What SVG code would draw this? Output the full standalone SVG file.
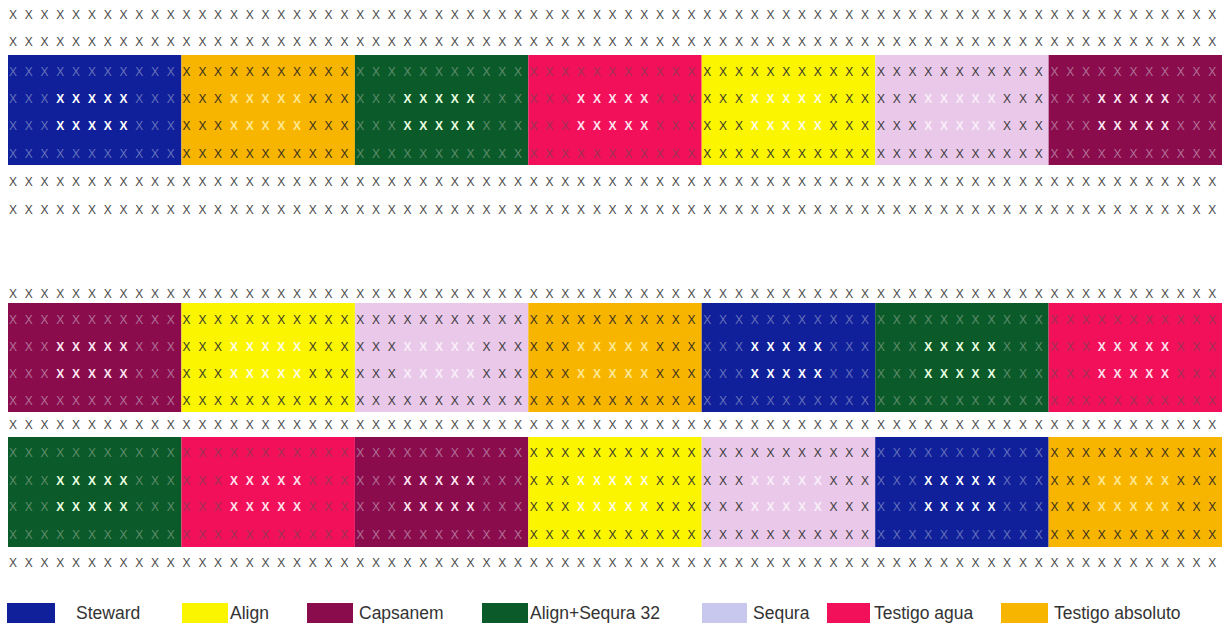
<svg xmlns="http://www.w3.org/2000/svg" width="1222" height="628" viewBox="0 0 1222 628">
<style>
.x{font-family:"Liberation Sans",Arial,sans-serif;font-size:12px;text-anchor:middle}
.g{fill:#4a4a4a}
.b{font-weight:bold}
.lbl{font-family:"Liberation Sans",Arial,sans-serif;font-size:17.5px;fill:#333}
.f-st{fill:#101f9a}.d-st{fill:#6472ba}.i-st{fill:#ffffff}
.f-al{fill:#fcf500}.d-al{fill:#3a3a2a}.i-al{fill:#fffde0}
.f-ca{fill:#8a0c4c}.d-ca{fill:#b27098}.i-ca{fill:#ffe6f2}
.f-as{fill:#0b5a29}.d-as{fill:#5e8c6c}.i-as{fill:#eaffe0}
.f-se{fill:#eac8ea}.d-se{fill:#3a3a3a}.i-se{fill:#f8eef8}
.f-ta{fill:#f2105a}.d-ta{fill:#9c3456}.i-ta{fill:#ffe2ec}
.f-tb{fill:#f7b500}.d-tb{fill:#3a3020}.i-tb{fill:#ffe890}
.lg-se{fill:#c8c8ee}
</style>
<g id="border-rows">
<text class="x g" x="13 28.8 44.6 60.3 76.1 91.9 107.7 123.5 139.2 155 170.8 186.6 202.4 218.1 233.9 249.7 265.5 281.3 297 312.8 328.6 344.4 360.2 375.9 391.7 407.5 423.3 439.1 454.8 470.6 486.4 502.2 518 533.7 549.5 565.3 581.1 596.9 612.6 628.4 644.2 660 675.8 691.5 707.3 723.1 738.9 754.7 770.4 786.2 802 817.8 833.6 849.3 865.1 880.9 896.7 912.5 928.2 944 959.8 975.6 991.4 1007.1 1022.9 1038.7 1054.5 1070.3 1086 1101.8 1117.6 1133.4 1149.2 1164.9 1180.7 1196.5 1212.3" y="19">XXXXXXXXXXXXXXXXXXXXXXXXXXXXXXXXXXXXXXXXXXXXXXXXXXXXXXXXXXXXXXXXXXXXXXXXXXXXX</text>
<text class="x g" x="13 28.8 44.6 60.3 76.1 91.9 107.7 123.5 139.2 155 170.8 186.6 202.4 218.1 233.9 249.7 265.5 281.3 297 312.8 328.6 344.4 360.2 375.9 391.7 407.5 423.3 439.1 454.8 470.6 486.4 502.2 518 533.7 549.5 565.3 581.1 596.9 612.6 628.4 644.2 660 675.8 691.5 707.3 723.1 738.9 754.7 770.4 786.2 802 817.8 833.6 849.3 865.1 880.9 896.7 912.5 928.2 944 959.8 975.6 991.4 1007.1 1022.9 1038.7 1054.5 1070.3 1086 1101.8 1117.6 1133.4 1149.2 1164.9 1180.7 1196.5 1212.3" y="46">XXXXXXXXXXXXXXXXXXXXXXXXXXXXXXXXXXXXXXXXXXXXXXXXXXXXXXXXXXXXXXXXXXXXXXXXXXXXX</text>
<text class="x g" x="13 28.8 44.6 60.3 76.1 91.9 107.7 123.5 139.2 155 170.8 186.6 202.4 218.1 233.9 249.7 265.5 281.3 297 312.8 328.6 344.4 360.2 375.9 391.7 407.5 423.3 439.1 454.8 470.6 486.4 502.2 518 533.7 549.5 565.3 581.1 596.9 612.6 628.4 644.2 660 675.8 691.5 707.3 723.1 738.9 754.7 770.4 786.2 802 817.8 833.6 849.3 865.1 880.9 896.7 912.5 928.2 944 959.8 975.6 991.4 1007.1 1022.9 1038.7 1054.5 1070.3 1086 1101.8 1117.6 1133.4 1149.2 1164.9 1180.7 1196.5 1212.3" y="186">XXXXXXXXXXXXXXXXXXXXXXXXXXXXXXXXXXXXXXXXXXXXXXXXXXXXXXXXXXXXXXXXXXXXXXXXXXXXX</text>
<text class="x g" x="13 28.8 44.6 60.3 76.1 91.9 107.7 123.5 139.2 155 170.8 186.6 202.4 218.1 233.9 249.7 265.5 281.3 297 312.8 328.6 344.4 360.2 375.9 391.7 407.5 423.3 439.1 454.8 470.6 486.4 502.2 518 533.7 549.5 565.3 581.1 596.9 612.6 628.4 644.2 660 675.8 691.5 707.3 723.1 738.9 754.7 770.4 786.2 802 817.8 833.6 849.3 865.1 880.9 896.7 912.5 928.2 944 959.8 975.6 991.4 1007.1 1022.9 1038.7 1054.5 1070.3 1086 1101.8 1117.6 1133.4 1149.2 1164.9 1180.7 1196.5 1212.3" y="214">XXXXXXXXXXXXXXXXXXXXXXXXXXXXXXXXXXXXXXXXXXXXXXXXXXXXXXXXXXXXXXXXXXXXXXXXXXXXX</text>
<text class="x g" x="13 28.8 44.6 60.3 76.1 91.9 107.7 123.5 139.2 155 170.8 186.6 202.4 218.1 233.9 249.7 265.5 281.3 297 312.8 328.6 344.4 360.2 375.9 391.7 407.5 423.3 439.1 454.8 470.6 486.4 502.2 518 533.7 549.5 565.3 581.1 596.9 612.6 628.4 644.2 660 675.8 691.5 707.3 723.1 738.9 754.7 770.4 786.2 802 817.8 833.6 849.3 865.1 880.9 896.7 912.5 928.2 944 959.8 975.6 991.4 1007.1 1022.9 1038.7 1054.5 1070.3 1086 1101.8 1117.6 1133.4 1149.2 1164.9 1180.7 1196.5 1212.3" y="298">XXXXXXXXXXXXXXXXXXXXXXXXXXXXXXXXXXXXXXXXXXXXXXXXXXXXXXXXXXXXXXXXXXXXXXXXXXXXX</text>
<text class="x g" x="13 28.8 44.6 60.3 76.1 91.9 107.7 123.5 139.2 155 170.8 186.6 202.4 218.1 233.9 249.7 265.5 281.3 297 312.8 328.6 344.4 360.2 375.9 391.7 407.5 423.3 439.1 454.8 470.6 486.4 502.2 518 533.7 549.5 565.3 581.1 596.9 612.6 628.4 644.2 660 675.8 691.5 707.3 723.1 738.9 754.7 770.4 786.2 802 817.8 833.6 849.3 865.1 880.9 896.7 912.5 928.2 944 959.8 975.6 991.4 1007.1 1022.9 1038.7 1054.5 1070.3 1086 1101.8 1117.6 1133.4 1149.2 1164.9 1180.7 1196.5 1212.3" y="429">XXXXXXXXXXXXXXXXXXXXXXXXXXXXXXXXXXXXXXXXXXXXXXXXXXXXXXXXXXXXXXXXXXXXXXXXXXXXX</text>
<text class="x g" x="13 28.8 44.6 60.3 76.1 91.9 107.7 123.5 139.2 155 170.8 186.6 202.4 218.1 233.9 249.7 265.5 281.3 297 312.8 328.6 344.4 360.2 375.9 391.7 407.5 423.3 439.1 454.8 470.6 486.4 502.2 518 533.7 549.5 565.3 581.1 596.9 612.6 628.4 644.2 660 675.8 691.5 707.3 723.1 738.9 754.7 770.4 786.2 802 817.8 833.6 849.3 865.1 880.9 896.7 912.5 928.2 944 959.8 975.6 991.4 1007.1 1022.9 1038.7 1054.5 1070.3 1086 1101.8 1117.6 1133.4 1149.2 1164.9 1180.7 1196.5 1212.3" y="567">XXXXXXXXXXXXXXXXXXXXXXXXXXXXXXXXXXXXXXXXXXXXXXXXXXXXXXXXXXXXXXXXXXXXXXXXXXXXX</text>
</g>

<!-- Block 1 -->
<g id="b1-1-steward"><rect class="f-st" x="8" y="55" width="173.4" height="110"/>
<text class="x d-st" x="13 28.8 44.6 60.3 76.1 91.9 107.7 123.5 139.2 155 170.8" y="76">XXXXXXXXXXX</text>
<text class="x d-st" x="13 28.8 44.6" y="103">XXX</text><text class="x b i-st" x="60.3 76.1 91.9 107.7 123.5" y="103">XXXXX</text><text class="x d-st" x="139.2 155 170.8" y="103">XXX</text>
<text class="x d-st" x="13 28.8 44.6" y="130">XXX</text><text class="x b i-st" x="60.3 76.1 91.9 107.7 123.5" y="130">XXXXX</text><text class="x d-st" x="139.2 155 170.8" y="130">XXX</text>
<text class="x d-st" x="13 28.8 44.6 60.3 76.1 91.9 107.7 123.5 139.2 155 170.8" y="158">XXXXXXXXXXX</text></g>
<g id="b1-2-testigo-absoluto"><rect class="f-tb" x="181.4" y="55" width="173.5" height="110"/>
<text class="x d-tb" x="186.6 202.4 218.1 233.9 249.7 265.5 281.3 297 312.8 328.6 344.4" y="76">XXXXXXXXXXX</text>
<text class="x d-tb" x="186.6 202.4 218.1" y="103">XXX</text><text class="x b i-tb" x="233.9 249.7 265.5 281.3 297" y="103">XXXXX</text><text class="x d-tb" x="312.8 328.6 344.4" y="103">XXX</text>
<text class="x d-tb" x="186.6 202.4 218.1" y="130">XXX</text><text class="x b i-tb" x="233.9 249.7 265.5 281.3 297" y="130">XXXXX</text><text class="x d-tb" x="312.8 328.6 344.4" y="130">XXX</text>
<text class="x d-tb" x="186.6 202.4 218.1 233.9 249.7 265.5 281.3 297 312.8 328.6 344.4" y="158">XXXXXXXXXXX</text></g>
<g id="b1-3-align-sequra"><rect class="f-as" x="354.9" y="55" width="173.4" height="110"/>
<text class="x d-as" x="360.2 375.9 391.7 407.5 423.3 439.1 454.8 470.6 486.4 502.2 518" y="76">XXXXXXXXXXX</text>
<text class="x d-as" x="360.2 375.9 391.7" y="103">XXX</text><text class="x b i-as" x="407.5 423.3 439.1 454.8 470.6" y="103">XXXXX</text><text class="x d-as" x="486.4 502.2 518" y="103">XXX</text>
<text class="x d-as" x="360.2 375.9 391.7" y="130">XXX</text><text class="x b i-as" x="407.5 423.3 439.1 454.8 470.6" y="130">XXXXX</text><text class="x d-as" x="486.4 502.2 518" y="130">XXX</text>
<text class="x d-as" x="360.2 375.9 391.7 407.5 423.3 439.1 454.8 470.6 486.4 502.2 518" y="158">XXXXXXXXXXX</text></g>
<g id="b1-4-testigo-agua"><rect class="f-ta" x="528.3" y="55" width="173.4" height="110"/>
<text class="x d-ta" x="533.7 549.5 565.3 581.1 596.9 612.6 628.4 644.2 660 675.8 691.5" y="76">XXXXXXXXXXX</text>
<text class="x d-ta" x="533.7 549.5 565.3" y="103">XXX</text><text class="x b i-ta" x="581.1 596.9 612.6 628.4 644.2" y="103">XXXXX</text><text class="x d-ta" x="660 675.8 691.5" y="103">XXX</text>
<text class="x d-ta" x="533.7 549.5 565.3" y="130">XXX</text><text class="x b i-ta" x="581.1 596.9 612.6 628.4 644.2" y="130">XXXXX</text><text class="x d-ta" x="660 675.8 691.5" y="130">XXX</text>
<text class="x d-ta" x="533.7 549.5 565.3 581.1 596.9 612.6 628.4 644.2 660 675.8 691.5" y="158">XXXXXXXXXXX</text></g>
<g id="b1-5-align"><rect class="f-al" x="701.7" y="55" width="173.5" height="110"/>
<text class="x d-al" x="707.3 723.1 738.9 754.7 770.4 786.2 802 817.8 833.6 849.3 865.1" y="76">XXXXXXXXXXX</text>
<text class="x d-al" x="707.3 723.1 738.9" y="103">XXX</text><text class="x b i-al" x="754.7 770.4 786.2 802 817.8" y="103">XXXXX</text><text class="x d-al" x="833.6 849.3 865.1" y="103">XXX</text>
<text class="x d-al" x="707.3 723.1 738.9" y="130">XXX</text><text class="x b i-al" x="754.7 770.4 786.2 802 817.8" y="130">XXXXX</text><text class="x d-al" x="833.6 849.3 865.1" y="130">XXX</text>
<text class="x d-al" x="707.3 723.1 738.9 754.7 770.4 786.2 802 817.8 833.6 849.3 865.1" y="158">XXXXXXXXXXX</text></g>
<g id="b1-6-sequra"><rect class="f-se" x="875.2" y="55" width="173.4" height="110"/>
<text class="x d-se" x="880.9 896.7 912.5 928.2 944 959.8 975.6 991.4 1007.1 1022.9 1038.7" y="76">XXXXXXXXXXX</text>
<text class="x d-se" x="880.9 896.7 912.5" y="103">XXX</text><text class="x b i-se" x="928.2 944 959.8 975.6 991.4" y="103">XXXXX</text><text class="x d-se" x="1007.1 1022.9 1038.7" y="103">XXX</text>
<text class="x d-se" x="880.9 896.7 912.5" y="130">XXX</text><text class="x b i-se" x="928.2 944 959.8 975.6 991.4" y="130">XXXXX</text><text class="x d-se" x="1007.1 1022.9 1038.7" y="130">XXX</text>
<text class="x d-se" x="880.9 896.7 912.5 928.2 944 959.8 975.6 991.4 1007.1 1022.9 1038.7" y="158">XXXXXXXXXXX</text></g>
<g id="b1-7-capsanem"><rect class="f-ca" x="1048.6" y="55" width="173.4" height="110"/>
<text class="x d-ca" x="1054.5 1070.3 1086 1101.8 1117.6 1133.4 1149.2 1164.9 1180.7 1196.5 1212.3" y="76">XXXXXXXXXXX</text>
<text class="x d-ca" x="1054.5 1070.3 1086" y="103">XXX</text><text class="x b i-ca" x="1101.8 1117.6 1133.4 1149.2 1164.9" y="103">XXXXX</text><text class="x d-ca" x="1180.7 1196.5 1212.3" y="103">XXX</text>
<text class="x d-ca" x="1054.5 1070.3 1086" y="130">XXX</text><text class="x b i-ca" x="1101.8 1117.6 1133.4 1149.2 1164.9" y="130">XXXXX</text><text class="x d-ca" x="1180.7 1196.5 1212.3" y="130">XXX</text>
<text class="x d-ca" x="1054.5 1070.3 1086 1101.8 1117.6 1133.4 1149.2 1164.9 1180.7 1196.5 1212.3" y="158">XXXXXXXXXXX</text></g>

<!-- Block 2 -->
<g id="b2-1-capsanem"><rect class="f-ca" x="8" y="303" width="173.4" height="109"/>
<text class="x d-ca" x="13 28.8 44.6 60.3 76.1 91.9 107.7 123.5 139.2 155 170.8" y="324">XXXXXXXXXXX</text>
<text class="x d-ca" x="13 28.8 44.6" y="351">XXX</text><text class="x b i-ca" x="60.3 76.1 91.9 107.7 123.5" y="351">XXXXX</text><text class="x d-ca" x="139.2 155 170.8" y="351">XXX</text>
<text class="x d-ca" x="13 28.8 44.6" y="378">XXX</text><text class="x b i-ca" x="60.3 76.1 91.9 107.7 123.5" y="378">XXXXX</text><text class="x d-ca" x="139.2 155 170.8" y="378">XXX</text>
<text class="x d-ca" x="13 28.8 44.6 60.3 76.1 91.9 107.7 123.5 139.2 155 170.8" y="405">XXXXXXXXXXX</text></g>
<g id="b2-2-align"><rect class="f-al" x="181.4" y="303" width="173.5" height="109"/>
<text class="x d-al" x="186.6 202.4 218.1 233.9 249.7 265.5 281.3 297 312.8 328.6 344.4" y="324">XXXXXXXXXXX</text>
<text class="x d-al" x="186.6 202.4 218.1" y="351">XXX</text><text class="x b i-al" x="233.9 249.7 265.5 281.3 297" y="351">XXXXX</text><text class="x d-al" x="312.8 328.6 344.4" y="351">XXX</text>
<text class="x d-al" x="186.6 202.4 218.1" y="378">XXX</text><text class="x b i-al" x="233.9 249.7 265.5 281.3 297" y="378">XXXXX</text><text class="x d-al" x="312.8 328.6 344.4" y="378">XXX</text>
<text class="x d-al" x="186.6 202.4 218.1 233.9 249.7 265.5 281.3 297 312.8 328.6 344.4" y="405">XXXXXXXXXXX</text></g>
<g id="b2-3-sequra"><rect class="f-se" x="354.9" y="303" width="173.4" height="109"/>
<text class="x d-se" x="360.2 375.9 391.7 407.5 423.3 439.1 454.8 470.6 486.4 502.2 518" y="324">XXXXXXXXXXX</text>
<text class="x d-se" x="360.2 375.9 391.7" y="351">XXX</text><text class="x b i-se" x="407.5 423.3 439.1 454.8 470.6" y="351">XXXXX</text><text class="x d-se" x="486.4 502.2 518" y="351">XXX</text>
<text class="x d-se" x="360.2 375.9 391.7" y="378">XXX</text><text class="x b i-se" x="407.5 423.3 439.1 454.8 470.6" y="378">XXXXX</text><text class="x d-se" x="486.4 502.2 518" y="378">XXX</text>
<text class="x d-se" x="360.2 375.9 391.7 407.5 423.3 439.1 454.8 470.6 486.4 502.2 518" y="405">XXXXXXXXXXX</text></g>
<g id="b2-4-testigo-absoluto"><rect class="f-tb" x="528.3" y="303" width="173.4" height="109"/>
<text class="x d-tb" x="533.7 549.5 565.3 581.1 596.9 612.6 628.4 644.2 660 675.8 691.5" y="324">XXXXXXXXXXX</text>
<text class="x d-tb" x="533.7 549.5 565.3" y="351">XXX</text><text class="x b i-tb" x="581.1 596.9 612.6 628.4 644.2" y="351">XXXXX</text><text class="x d-tb" x="660 675.8 691.5" y="351">XXX</text>
<text class="x d-tb" x="533.7 549.5 565.3" y="378">XXX</text><text class="x b i-tb" x="581.1 596.9 612.6 628.4 644.2" y="378">XXXXX</text><text class="x d-tb" x="660 675.8 691.5" y="378">XXX</text>
<text class="x d-tb" x="533.7 549.5 565.3 581.1 596.9 612.6 628.4 644.2 660 675.8 691.5" y="405">XXXXXXXXXXX</text></g>
<g id="b2-5-steward"><rect class="f-st" x="701.7" y="303" width="173.5" height="109"/>
<text class="x d-st" x="707.3 723.1 738.9 754.7 770.4 786.2 802 817.8 833.6 849.3 865.1" y="324">XXXXXXXXXXX</text>
<text class="x d-st" x="707.3 723.1 738.9" y="351">XXX</text><text class="x b i-st" x="754.7 770.4 786.2 802 817.8" y="351">XXXXX</text><text class="x d-st" x="833.6 849.3 865.1" y="351">XXX</text>
<text class="x d-st" x="707.3 723.1 738.9" y="378">XXX</text><text class="x b i-st" x="754.7 770.4 786.2 802 817.8" y="378">XXXXX</text><text class="x d-st" x="833.6 849.3 865.1" y="378">XXX</text>
<text class="x d-st" x="707.3 723.1 738.9 754.7 770.4 786.2 802 817.8 833.6 849.3 865.1" y="405">XXXXXXXXXXX</text></g>
<g id="b2-6-align-sequra"><rect class="f-as" x="875.2" y="303" width="173.4" height="109"/>
<text class="x d-as" x="880.9 896.7 912.5 928.2 944 959.8 975.6 991.4 1007.1 1022.9 1038.7" y="324">XXXXXXXXXXX</text>
<text class="x d-as" x="880.9 896.7 912.5" y="351">XXX</text><text class="x b i-as" x="928.2 944 959.8 975.6 991.4" y="351">XXXXX</text><text class="x d-as" x="1007.1 1022.9 1038.7" y="351">XXX</text>
<text class="x d-as" x="880.9 896.7 912.5" y="378">XXX</text><text class="x b i-as" x="928.2 944 959.8 975.6 991.4" y="378">XXXXX</text><text class="x d-as" x="1007.1 1022.9 1038.7" y="378">XXX</text>
<text class="x d-as" x="880.9 896.7 912.5 928.2 944 959.8 975.6 991.4 1007.1 1022.9 1038.7" y="405">XXXXXXXXXXX</text></g>
<g id="b2-7-testigo-agua"><rect class="f-ta" x="1048.6" y="303" width="173.4" height="109"/>
<text class="x d-ta" x="1054.5 1070.3 1086 1101.8 1117.6 1133.4 1149.2 1164.9 1180.7 1196.5 1212.3" y="324">XXXXXXXXXXX</text>
<text class="x d-ta" x="1054.5 1070.3 1086" y="351">XXX</text><text class="x b i-ta" x="1101.8 1117.6 1133.4 1149.2 1164.9" y="351">XXXXX</text><text class="x d-ta" x="1180.7 1196.5 1212.3" y="351">XXX</text>
<text class="x d-ta" x="1054.5 1070.3 1086" y="378">XXX</text><text class="x b i-ta" x="1101.8 1117.6 1133.4 1149.2 1164.9" y="378">XXXXX</text><text class="x d-ta" x="1180.7 1196.5 1212.3" y="378">XXX</text>
<text class="x d-ta" x="1054.5 1070.3 1086 1101.8 1117.6 1133.4 1149.2 1164.9 1180.7 1196.5 1212.3" y="405">XXXXXXXXXXX</text></g>

<!-- Block 3 -->
<g id="b3-1-align-sequra"><rect class="f-as" x="8" y="437" width="173.4" height="110"/>
<text class="x d-as" x="13 28.8 44.6 60.3 76.1 91.9 107.7 123.5 139.2 155 170.8" y="457">XXXXXXXXXXX</text>
<text class="x d-as" x="13 28.8 44.6" y="485">XXX</text><text class="x b i-as" x="60.3 76.1 91.9 107.7 123.5" y="485">XXXXX</text><text class="x d-as" x="139.2 155 170.8" y="485">XXX</text>
<text class="x d-as" x="13 28.8 44.6" y="511">XXX</text><text class="x b i-as" x="60.3 76.1 91.9 107.7 123.5" y="511">XXXXX</text><text class="x d-as" x="139.2 155 170.8" y="511">XXX</text>
<text class="x d-as" x="13 28.8 44.6 60.3 76.1 91.9 107.7 123.5 139.2 155 170.8" y="539">XXXXXXXXXXX</text></g>
<g id="b3-2-testigo-agua"><rect class="f-ta" x="181.4" y="437" width="173.5" height="110"/>
<text class="x d-ta" x="186.6 202.4 218.1 233.9 249.7 265.5 281.3 297 312.8 328.6 344.4" y="457">XXXXXXXXXXX</text>
<text class="x d-ta" x="186.6 202.4 218.1" y="485">XXX</text><text class="x b i-ta" x="233.9 249.7 265.5 281.3 297" y="485">XXXXX</text><text class="x d-ta" x="312.8 328.6 344.4" y="485">XXX</text>
<text class="x d-ta" x="186.6 202.4 218.1" y="511">XXX</text><text class="x b i-ta" x="233.9 249.7 265.5 281.3 297" y="511">XXXXX</text><text class="x d-ta" x="312.8 328.6 344.4" y="511">XXX</text>
<text class="x d-ta" x="186.6 202.4 218.1 233.9 249.7 265.5 281.3 297 312.8 328.6 344.4" y="539">XXXXXXXXXXX</text></g>
<g id="b3-3-capsanem"><rect class="f-ca" x="354.9" y="437" width="173.4" height="110"/>
<text class="x d-ca" x="360.2 375.9 391.7 407.5 423.3 439.1 454.8 470.6 486.4 502.2 518" y="457">XXXXXXXXXXX</text>
<text class="x d-ca" x="360.2 375.9 391.7" y="485">XXX</text><text class="x b i-ca" x="407.5 423.3 439.1 454.8 470.6" y="485">XXXXX</text><text class="x d-ca" x="486.4 502.2 518" y="485">XXX</text>
<text class="x d-ca" x="360.2 375.9 391.7" y="511">XXX</text><text class="x b i-ca" x="407.5 423.3 439.1 454.8 470.6" y="511">XXXXX</text><text class="x d-ca" x="486.4 502.2 518" y="511">XXX</text>
<text class="x d-ca" x="360.2 375.9 391.7 407.5 423.3 439.1 454.8 470.6 486.4 502.2 518" y="539">XXXXXXXXXXX</text></g>
<g id="b3-4-align"><rect class="f-al" x="528.3" y="437" width="173.4" height="110"/>
<text class="x d-al" x="533.7 549.5 565.3 581.1 596.9 612.6 628.4 644.2 660 675.8 691.5" y="457">XXXXXXXXXXX</text>
<text class="x d-al" x="533.7 549.5 565.3" y="485">XXX</text><text class="x b i-al" x="581.1 596.9 612.6 628.4 644.2" y="485">XXXXX</text><text class="x d-al" x="660 675.8 691.5" y="485">XXX</text>
<text class="x d-al" x="533.7 549.5 565.3" y="511">XXX</text><text class="x b i-al" x="581.1 596.9 612.6 628.4 644.2" y="511">XXXXX</text><text class="x d-al" x="660 675.8 691.5" y="511">XXX</text>
<text class="x d-al" x="533.7 549.5 565.3 581.1 596.9 612.6 628.4 644.2 660 675.8 691.5" y="539">XXXXXXXXXXX</text></g>
<g id="b3-5-sequra"><rect class="f-se" x="701.7" y="437" width="173.5" height="110"/>
<text class="x d-se" x="707.3 723.1 738.9 754.7 770.4 786.2 802 817.8 833.6 849.3 865.1" y="457">XXXXXXXXXXX</text>
<text class="x d-se" x="707.3 723.1 738.9" y="485">XXX</text><text class="x b i-se" x="754.7 770.4 786.2 802 817.8" y="485">XXXXX</text><text class="x d-se" x="833.6 849.3 865.1" y="485">XXX</text>
<text class="x d-se" x="707.3 723.1 738.9" y="511">XXX</text><text class="x b i-se" x="754.7 770.4 786.2 802 817.8" y="511">XXXXX</text><text class="x d-se" x="833.6 849.3 865.1" y="511">XXX</text>
<text class="x d-se" x="707.3 723.1 738.9 754.7 770.4 786.2 802 817.8 833.6 849.3 865.1" y="539">XXXXXXXXXXX</text></g>
<g id="b3-6-steward"><rect class="f-st" x="875.2" y="437" width="173.4" height="110"/>
<text class="x d-st" x="880.9 896.7 912.5 928.2 944 959.8 975.6 991.4 1007.1 1022.9 1038.7" y="457">XXXXXXXXXXX</text>
<text class="x d-st" x="880.9 896.7 912.5" y="485">XXX</text><text class="x b i-st" x="928.2 944 959.8 975.6 991.4" y="485">XXXXX</text><text class="x d-st" x="1007.1 1022.9 1038.7" y="485">XXX</text>
<text class="x d-st" x="880.9 896.7 912.5" y="511">XXX</text><text class="x b i-st" x="928.2 944 959.8 975.6 991.4" y="511">XXXXX</text><text class="x d-st" x="1007.1 1022.9 1038.7" y="511">XXX</text>
<text class="x d-st" x="880.9 896.7 912.5 928.2 944 959.8 975.6 991.4 1007.1 1022.9 1038.7" y="539">XXXXXXXXXXX</text></g>
<g id="b3-7-testigo-absoluto"><rect class="f-tb" x="1048.6" y="437" width="173.4" height="110"/>
<text class="x d-tb" x="1054.5 1070.3 1086 1101.8 1117.6 1133.4 1149.2 1164.9 1180.7 1196.5 1212.3" y="457">XXXXXXXXXXX</text>
<text class="x d-tb" x="1054.5 1070.3 1086" y="485">XXX</text><text class="x b i-tb" x="1101.8 1117.6 1133.4 1149.2 1164.9" y="485">XXXXX</text><text class="x d-tb" x="1180.7 1196.5 1212.3" y="485">XXX</text>
<text class="x d-tb" x="1054.5 1070.3 1086" y="511">XXX</text><text class="x b i-tb" x="1101.8 1117.6 1133.4 1149.2 1164.9" y="511">XXXXX</text><text class="x d-tb" x="1180.7 1196.5 1212.3" y="511">XXX</text>
<text class="x d-tb" x="1054.5 1070.3 1086 1101.8 1117.6 1133.4 1149.2 1164.9 1180.7 1196.5 1212.3" y="539">XXXXXXXXXXX</text></g>

<!-- Legend -->
<g id="legend">
<g id="lg-steward"><rect class="f-st" x="7" y="603" width="48" height="20"/><text class="lbl" x="76" y="619">Steward</text></g>
<g id="lg-align"><rect class="f-al" x="182" y="603" width="46" height="20"/><text class="lbl" x="230" y="619">Align</text></g>
<g id="lg-capsanem"><rect class="f-ca" x="307" y="603" width="46" height="20"/><text class="lbl" x="359" y="619">Capsanem</text></g>
<g id="lg-align-sequra"><rect class="f-as" x="482" y="603" width="46" height="20"/><text class="lbl" x="530" y="619">Align+Sequra 32</text></g>
<g id="lg-sequra"><rect class="lg-se" x="702" y="603" width="45" height="20"/><text class="lbl" x="753" y="619">Sequra</text></g>
<g id="lg-testigo-agua"><rect class="f-ta" x="827" y="603" width="43" height="20"/><text class="lbl" x="874" y="619">Testigo agua</text></g>
<g id="lg-testigo-absoluto"><rect class="f-tb" x="1001" y="603" width="47" height="20"/><text class="lbl" x="1054" y="619">Testigo absoluto</text></g>
</g>
</svg>
